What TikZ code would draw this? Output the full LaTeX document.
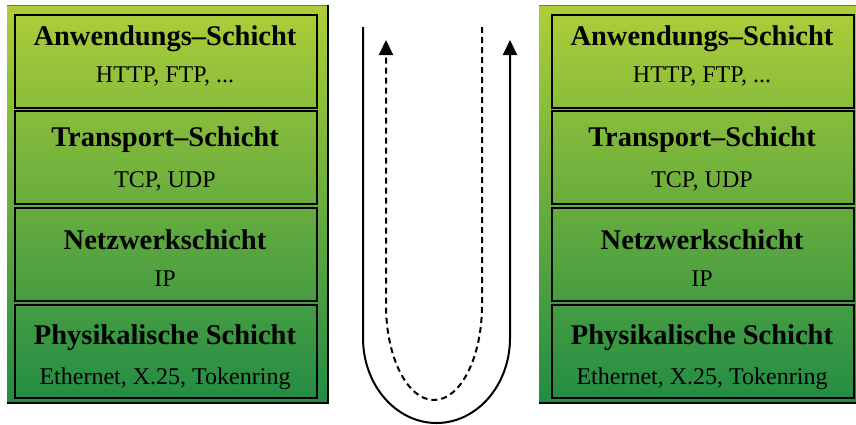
\documentclass[tikz,border=0pt]{standalone}
\usepackage{fontspec}
\setmainfont{Liberation Serif}
\usetikzlibrary{arrows.meta,calc,positioning}

\definecolor{layertop}{RGB}{174,206,56}
\definecolor{layermid}{RGB}{84,178,72}
\definecolor{layerbot}{RGB}{34,140,68}

\begin{document}
\begin{tikzpicture}[x=1pt,y=-1pt,
      layer/.style={draw=black, line width=1.8pt, minimum width=302pt, minimum height=93pt, inner sep=0pt, anchor=north west},
      title/.style={font=\bfseries\fontsize{28.5}{31}\selectfont, anchor=base, inner sep=0pt},
      proto/.style={font=\fontsize{24}{27}\selectfont, anchor=base, inner sep=0pt},
      flow/.style={line width=2pt, -{Triangle[length=15pt,width=14pt]}}]
      \useasboundingbox (0,0) rectangle (856,424);
      % the two protocol stacks
      \foreach \s/\dx/\ox in {l/0/7,r/537/539}{
         \shade[top color=layertop, middle color=layermid, bottom color=layerbot] (\ox,5) rectangle (\ox+321,403);
         \draw[black!55, line width=0.8pt] (\ox,5) -- (\ox+321,5);
         \draw[black, line width=2pt] (\ox+321,5) -- (\ox+321,403) -- (\ox,403);
         \foreach \n/\y/\ty/\py/\t/\p in {1/14/45/82/Anwendungs--Schicht/{HTTP, FTP, ...},
                                          2/110/146/187/Transport--Schicht/{TCP, UDP},
                                          3/207/249/286/Netzwerkschicht/IP,
                                          4/304/344/384/Physikalische Schicht/{Ethernet, X.25, Tokenring}}{
            \node[layer] (\s-\n) at (\dx+14,\y) {};
            \node[title] (\s-\n-t) at (\dx+165,\ty) {\t};
            \node[proto] (\s-\n-p) at (\dx+165,\py) {\p};
         }
      }
      % path down and up again
      \coordinate (down) at (363,27);
      \coordinate (up) at (510,40);
      \coordinate (back) at (482,27);
      \coordinate (answer) at (386,40);
      \draw[flow] (down) -- ++(0,311) arc[start angle=180, end angle=0, x radius=73.5, y radius=85] -- (up);
      \draw[flow, dash pattern=on 6pt off 4pt] (back) -- ++(0,278) arc[start angle=0, end angle=180, x radius=48, y radius=95] -- (answer);
\end{tikzpicture}
\end{document}
